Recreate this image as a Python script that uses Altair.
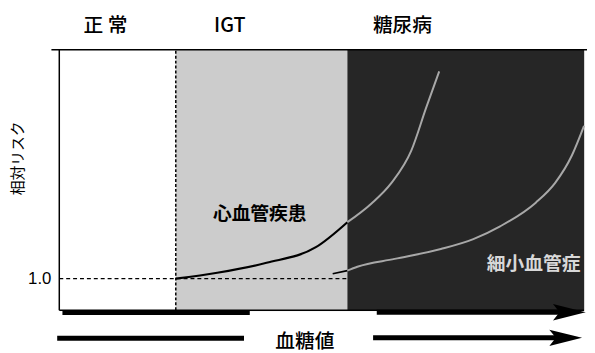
import altair as alt
import pandas as pd

# ---- data (abstract units: blood glucose 0-100, relative risk 0-100) ----
zone_names = ["正 常", "IGT", "糖尿病"]
zone_start = [0, 22.2, 54.9]
zone_end = [22.2, 54.9, 100]
zone_fill = ["#ffffff", "#cccccc", "#262626"]
zone_label_x = [8.8, 32.5, 65.4]
zone_label_y = [109.1, 109.1, 109.1]

risk_one = 12.1  # level of relative risk 1.0

# cardiovascular disease curve (black part in IGT, light part in diabetes)
cvd_x_igt = [22.2, 30.1, 39.5, 48.9, 54.9]
cvd_y_igt = [12.1, 14.4, 18.2, 24.2, 33.8]
cvd_x_dm = [54.9, 59.5, 63.3, 67.1, 69.9, 72.4]
cvd_y_dm = [33.8, 41.0, 48.9, 61.4, 77.7, 91.7]

# microvascular disease curve
micro_x_igt = [52.1, 54.9]
micro_y_igt = [14.0, 15.2]
micro_x_dm = [54.9, 56.8, 63.9, 72.7, 78.9, 84.0, 90.8, 94.5, 97.7, 100]
micro_y_dm = [15.2, 16.7, 19.7, 23.5, 27.3, 32.2, 41.3, 48.9, 59.5, 70.8]

# bottom bars / arrows
bar_start = [0.6, -0.4]
bar_end = [36.3, 35.2]
bar_y = [-0.9, -10.8]
arrow_start = [60.5, 59.8]
arrow_end = [97.5, 96.8]
arrow_y = [-0.8, -10.6]
arrow_head_x = [97.2, 96.5]

FONT = "Noto Sans CJK JP"

xs = alt.Scale(domain=[0, 100], nice=False, zero=False)
ys = alt.Scale(domain=[0, 100], nice=False, zero=False)

def X(f="x"):
    return alt.X(f"{f}:Q", scale=xs, axis=None)

def Y(f="y"):
    return alt.Y(f"{f}:Q", scale=ys, axis=None)

zones = pd.DataFrame({"name": zone_names, "x": zone_start, "x2": zone_end,
                      "y": [0] * 3, "y2": [100] * 3, "fill": zone_fill})
zone_layer = alt.Chart(zones).mark_rect().encode(
    x=X(), x2="x2", y=Y(), y2="y2",
    color=alt.Color("fill:N", scale=None),
)

# frame
frame = pd.DataFrame({"x": [0, -1.5, 0], "x2": [0, 100.6, 100],
                      "y": [0, 100, 0], "y2": [100, 100, 0]})
frame_layer = alt.Chart(frame).mark_rule(color="black", strokeWidth=1.5).encode(
    x=X(), x2="x2", y=Y(), y2="y2")

# dashed guides
dash_v = alt.Chart(pd.DataFrame({"x": [zone_start[1]], "y": [0], "y2": [100]})).mark_rule(
    color="black", strokeWidth=1.5, strokeDash=[3, 2]).encode(x=X(), y=Y(), y2="y2")
dash_h = alt.Chart(pd.DataFrame({"x": [0], "x2": [zone_end[1]], "y": [risk_one]})).mark_rule(
    color="black", strokeWidth=1.3, strokeDash=[4, 3]).encode(x=X(), x2="x2", y=Y())

def curve(xv, yv, color, width):
    df = pd.DataFrame({"x": xv, "y": yv, "o": list(range(len(xv)))})
    return alt.Chart(df).mark_line(color=color, strokeWidth=width, interpolate="monotone").encode(
        x=X(), y=Y(), order="o:Q")

curves = [
    curve(cvd_x_igt, cvd_y_igt, "black", 2.2),
    curve(cvd_x_dm, cvd_y_dm, "#a8a8a8", 2),
    curve(micro_x_igt, micro_y_igt, "black", 1.8),
    curve(micro_x_dm, micro_y_dm, "#a8a8a8", 2),
]

bars = pd.DataFrame({"x": bar_start, "x2": bar_end, "y": bar_y})
bar_layer = alt.Chart(bars).mark_rule(color="black", strokeWidth=5).encode(x=X(), x2="x2", y=Y())
arrows = pd.DataFrame({"x": arrow_start, "x2": arrow_end, "y": arrow_y})
arrow_layer = alt.Chart(arrows).mark_rule(color="black", strokeWidth=5).encode(x=X(), x2="x2", y=Y())
heads = pd.DataFrame({"x": arrow_head_x, "y": arrow_y})
head_layer = alt.Chart(heads).mark_point(
    shape="M -1 -0.5 L 1 0 L -1 0.5 L -0.6 0 Z", size=1100, filled=True,
    color="black", opacity=1).encode(x=X(), y=Y())

def text(items, **kw):
    df = pd.DataFrame({"t": [i[0] for i in items], "x": [i[1] for i in items],
                       "y": [i[2] for i in items]})
    kw.setdefault("font", FONT)
    return alt.Chart(df).mark_text(**kw).encode(x=X(), y=Y(), text="t:N")

zone_text = text(list(zip(zone_names, zone_label_x, zone_label_y)), fontSize=20,
                 color="black", fontWeight=500)
ytitle = text([("相対リスク", -7.9, 58.3)], fontSize=15, angle=270, color="black")
one_text = text([("1.0", -1.5, risk_one)], font="Liberation Sans", fontSize=17,
                align="right", color="black")
xtitle = text([("血糖値", 46.8, -12.3)], fontSize=20, color="black", fontWeight=500)
cvd_label = text([("心血管疾患", 38.2, 37.1)], fontSize=19, color="black", fontWeight="bold")
micro_label = text([("細小血管症", 90.4, 17.8)], fontSize=19, color="#d8d8d8", fontWeight="bold")

chart = alt.layer(
    zone_layer, dash_v, dash_h, frame_layer, *curves,
    bar_layer, arrow_layer, head_layer,
    zone_text, ytitle, one_text, xtitle, cvd_label, micro_label,
).properties(
    width=532, height=264,
    autosize=alt.AutoSizeParams(type="none"),
    padding={"left": 52, "top": 40, "right": 3, "bottom": 41},
).configure_view(stroke=None).configure(background="white")

chart.save("out.html", embed_options={"renderer": "svg", "actions": False})
